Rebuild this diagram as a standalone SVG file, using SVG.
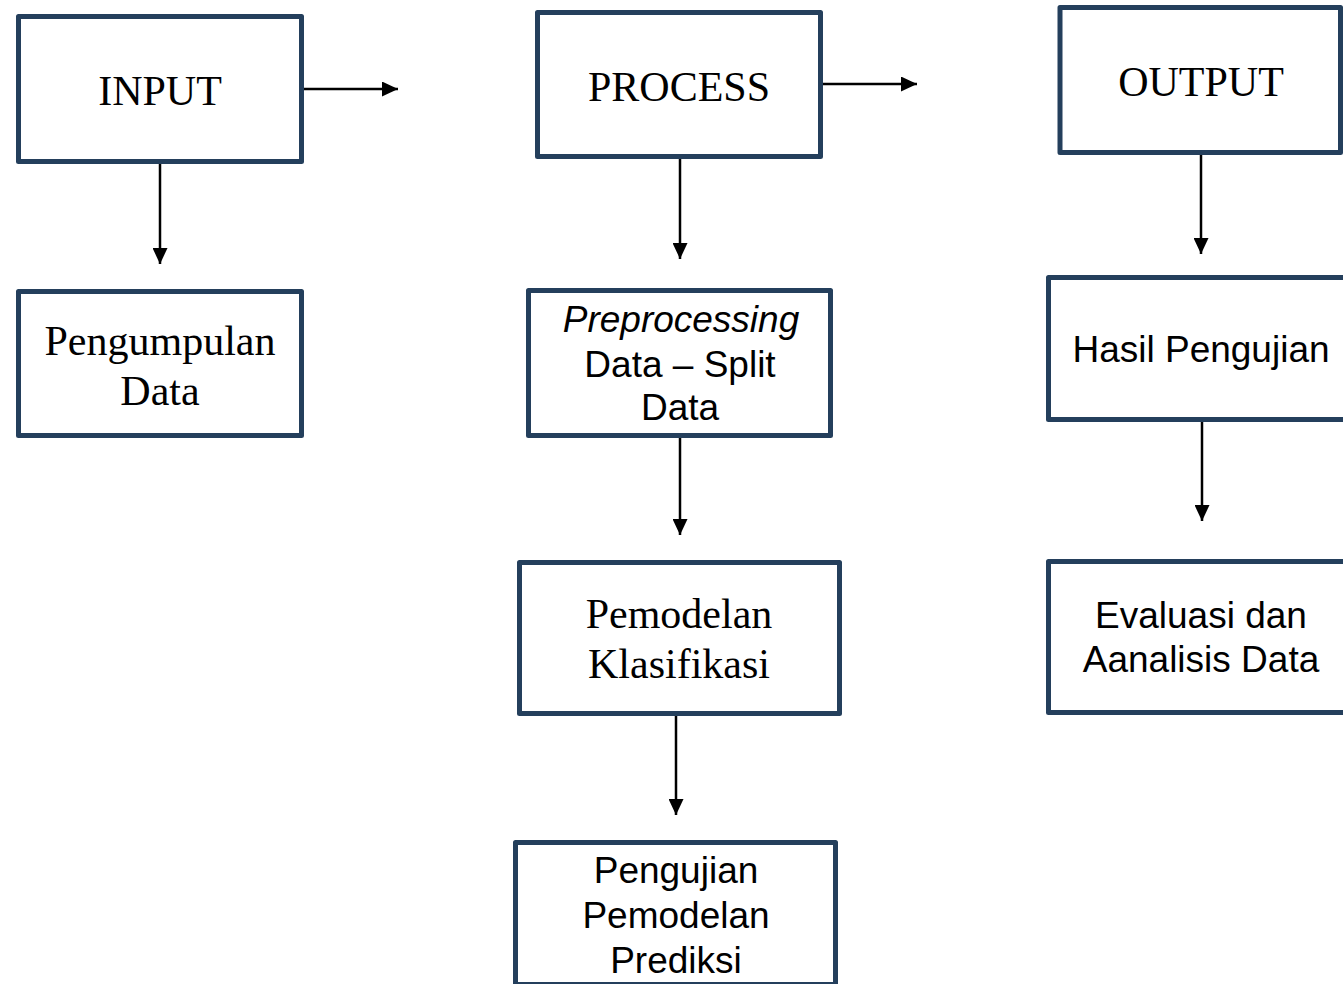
<svg xmlns="http://www.w3.org/2000/svg" width="1343" height="984" viewBox="0 0 1343 984">
<defs>
<marker id="ah" markerWidth="16" markerHeight="15" refX="16" refY="7.5" orient="auto" markerUnits="userSpaceOnUse">
<path d="M0,0 L16,7.5 L0,15 Z" fill="#000"/>
</marker>
<style>
.box{fill:#fff;stroke:#243F5C;stroke-width:5;stroke-linejoin:round}
.serif{font-family:"Liberation Serif","Times New Roman",serif;font-size:42px;fill:#000;text-anchor:middle}
.sans{font-family:"Liberation Sans",Arial,sans-serif;font-size:37px;fill:#000;text-anchor:middle}
.conn{stroke:#000;stroke-width:2.5;fill:none;marker-end:url(#ah)}
</style>
</defs>
<rect width="1343" height="984" fill="#fff"/>
<g id="connectors">
<line class="conn" x1="304" y1="89" x2="398" y2="89"/>
<line class="conn" x1="160" y1="164" x2="160" y2="264"/>
<line class="conn" x1="823" y1="84" x2="917" y2="84"/>
<line class="conn" x1="680" y1="159" x2="680" y2="259"/>
<line class="conn" x1="680" y1="437" x2="680" y2="535"/>
<line class="conn" x1="676" y1="716" x2="676" y2="815"/>
<line class="conn" x1="1201" y1="155" x2="1201" y2="254"/>
<line class="conn" x1="1202" y1="422" x2="1202" y2="521"/>
</g>
<g id="input">
<rect class="box" x="18.5" y="16.5" width="283" height="145"/>
<text class="serif" x="160" y="105">INPUT</text>
</g>
<g id="pengumpulan">
<rect class="box" x="18.5" y="291.5" width="283" height="144"/>
<text class="serif" x="160" y="355">Pengumpulan</text>
<text class="serif" x="160" y="405">Data</text>
</g>
<g id="process">
<rect class="box" x="537.5" y="12.5" width="283" height="144"/>
<text class="serif" x="679" y="101">PROCESS</text>
</g>
<g id="preprocessing">
<rect class="box" x="528.5" y="290.5" width="302" height="145"/>
<text class="sans" x="681" y="332" font-style="italic">Preprocessing</text>
<text class="sans" x="680" y="377">Data – Split</text>
<text class="sans" x="680" y="420">Data</text>
</g>
<g id="pemodelan">
<rect class="box" x="519.5" y="562.5" width="320" height="151"/>
<text class="serif" x="679" y="628">Pemodelan</text>
<text class="serif" x="679" y="678">Klasifikasi</text>
</g>
<g id="pengujian">
<rect class="box" x="515.5" y="842.5" width="320" height="142"/>
<text class="sans" x="676" y="883">Pengujian</text>
<text class="sans" x="676" y="928">Pemodelan</text>
<text class="sans" x="676" y="973">Prediksi</text>
</g>
<g id="output">
<rect class="box" x="1060" y="7.5" width="280.5" height="145"/>
<text class="serif" x="1201" y="96">OUTPUT</text>
</g>
<g id="hasil">
<rect class="box" x="1048.5" y="277.5" width="300" height="142"/>
<text class="sans" x="1201" y="362">Hasil Pengujian</text>
</g>
<g id="evaluasi">
<rect class="box" x="1048.5" y="561.5" width="300" height="151"/>
<text class="sans" x="1201" y="628">Evaluasi dan</text>
<text class="sans" x="1201" y="672">Aanalisis Data</text>
</g>
</svg>
